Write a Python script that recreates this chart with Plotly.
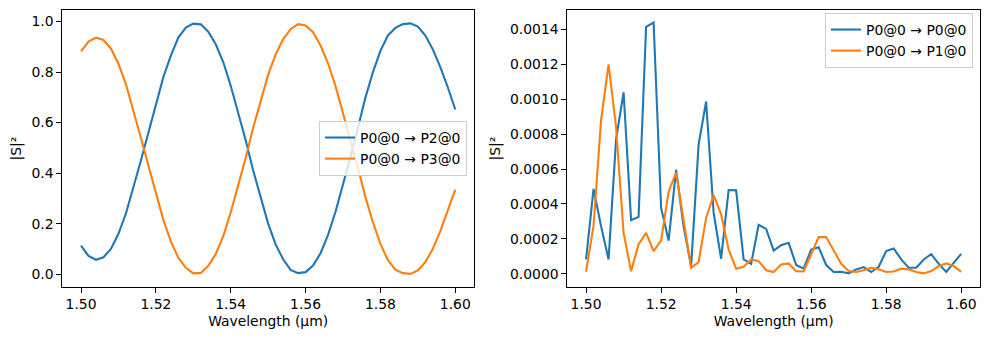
import plotly.graph_objects as go

wavelength = [1.500, 1.502, 1.504, 1.506, 1.508, 1.510, 1.512, 1.514, 1.516, 1.518,
              1.520, 1.522, 1.524, 1.526, 1.528, 1.530, 1.532, 1.534, 1.536, 1.538,
              1.540, 1.542, 1.544, 1.546, 1.548, 1.550, 1.552, 1.554, 1.556, 1.558,
              1.560, 1.562, 1.564, 1.566, 1.568, 1.570, 1.572, 1.574, 1.576, 1.578,
              1.580, 1.582, 1.584, 1.586, 1.588, 1.590, 1.592, 1.594, 1.596, 1.598,
              1.600]

s20 = [0.113, 0.072, 0.057, 0.067, 0.100, 0.160, 0.240, 0.340, 0.450, 0.560,
       0.670, 0.780, 0.865, 0.937, 0.976, 0.992, 0.989, 0.960, 0.910, 0.840,
       0.746, 0.640, 0.530, 0.410, 0.306, 0.200, 0.118, 0.059, 0.017, 0.004,
       0.008, 0.034, 0.083, 0.155, 0.247, 0.352, 0.464, 0.580, 0.700, 0.800,
       0.884, 0.945, 0.975, 0.990, 0.993, 0.980, 0.945, 0.890, 0.820, 0.740,
       0.652]

s30 = [0.882, 0.921, 0.936, 0.927, 0.893, 0.833, 0.752, 0.650, 0.540, 0.430,
       0.320, 0.215, 0.130, 0.065, 0.025, 0.003, 0.005, 0.033, 0.080, 0.150,
       0.245, 0.350, 0.460, 0.580, 0.685, 0.790, 0.870, 0.930, 0.970, 0.990,
       0.985, 0.958, 0.905, 0.835, 0.745, 0.640, 0.530, 0.420, 0.305, 0.205,
       0.120, 0.055, 0.018, 0.004, 0.001, 0.015, 0.048, 0.100, 0.170, 0.250,
       0.335]

s00 = [0.000082, 0.000486, 0.000272, 0.000082, 0.000770, 0.001040, 0.000307, 0.000326, 0.001415, 0.001440,
       0.000377, 0.000190, 0.000596, 0.000270, 0.000044, 0.000740, 0.000987, 0.000350, 0.000086, 0.000480,
       0.000478, 0.000082, 0.000057, 0.000280, 0.000257, 0.000133, 0.000164, 0.000177, 0.000050, 0.000029,
       0.000139, 0.000152, 0.000050, 0.000010, 0.000011, 0.000002, 0.000025, 0.000038, 0.000010, 0.000040,
       0.000130, 0.000145, 0.000082, 0.000034, 0.000034, 0.000082, 0.000112, 0.000057, 0.000010, 0.000063,
       0.000114]

s10 = [0.0000114, 0.000276, 0.000880, 0.001200, 0.000840, 0.000234, 0.000015, 0.000168, 0.000234, 0.000130,
       0.000190, 0.000470, 0.000580, 0.000310, 0.000034, 0.000067, 0.000320, 0.000450, 0.000340, 0.000139,
       0.000029, 0.000040, 0.000082, 0.000072, 0.000020, 0.000010, 0.000053, 0.000059, 0.000015, 0.000013,
       0.000110, 0.000210, 0.000210, 0.000133, 0.000057, 0.000015, 0.000010, 0.000020, 0.000034, 0.000025,
       0.000010, 0.000013, 0.000029, 0.000025, 0.000010, 0.000002, 0.000015, 0.000044, 0.000059, 0.000044,
       0.000011]

left_names = ["P0@0 → P2@0", "P0@0 → P3@0"]
right_names = ["P0@0 → P0@0", "P0@0 → P1@0"]
x_ticks = [1.50, 1.52, 1.54, 1.56, 1.58, 1.60]
left_y_ticks = [0.0, 0.2, 0.4, 0.6, 0.8, 1.0]
right_y_ticks = [0.0, 0.0002, 0.0004, 0.0006, 0.0008, 0.0010, 0.0012, 0.0014]

BLUE = "#1f77b4"
ORANGE = "#ff7f0e"
FONT = "DejaVu Sans"
FS = 13.9
W, H = 989, 340

fig = go.Figure()
fig.add_trace(go.Scatter(x=wavelength, y=s20, mode="lines", name=left_names[0],
                         line=dict(color=BLUE, width=2.1), xaxis="x", yaxis="y", legend="legend"))
fig.add_trace(go.Scatter(x=wavelength, y=s30, mode="lines", name=left_names[1],
                         line=dict(color=ORANGE, width=2.1), xaxis="x", yaxis="y", legend="legend"))
fig.add_trace(go.Scatter(x=wavelength, y=s00, mode="lines", name=right_names[0],
                         line=dict(color=BLUE, width=2.1), xaxis="x2", yaxis="y2", legend="legend2"))
fig.add_trace(go.Scatter(x=wavelength, y=s10, mode="lines", name=right_names[1],
                         line=dict(color=ORANGE, width=2.1), xaxis="x2", yaxis="y2", legend="legend2"))

ydom = [(H - 286.7) / H, (H - 10.3) / H]

def xaxis(domain, anchor):
    return dict(domain=domain, anchor=anchor, range=[1.495, 1.605],
                tickvals=x_ticks, tickformat=".2f", ticks="outside", ticklen=4.9, tickwidth=1.1,
                tickcolor="black", showline=True, linecolor="black", linewidth=1.1, mirror=True,
                showgrid=False, zeroline=False, automargin=False,
                tickfont=dict(family=FONT, size=FS, color="black"),
                title=dict(text="Wavelength (μm)", font=dict(family=FONT, size=FS, color="black"), standoff=4))

def yaxis(anchor, rng, ticks, fmt):
    return dict(domain=ydom, anchor=anchor, range=rng, tickvals=ticks, tickformat=fmt,
                ticks="outside", ticklen=4.9, tickwidth=1.1, tickcolor="black",
                showline=True, linecolor="black", linewidth=1.1, mirror=True,
                showgrid=False, zeroline=False, automargin=False,
                tickfont=dict(family=FONT, size=FS, color="black"),
                title=dict(text="|S|²", font=dict(family=FONT, size=FS, color="black"), standoff=6))

legend_style = dict(font=dict(family=FONT, size=FS, color="black"), bgcolor="rgba(255,255,255,0.8)",
                    bordercolor="#cccccc", borderwidth=1, xanchor="right", yanchor="top",
                    tracegroupgap=0, itemwidth=30)

fig.update_layout(
    width=W, height=H,
    margin=dict(l=0, r=0, t=0, b=0),
    paper_bgcolor="white", plot_bgcolor="white",
    font=dict(family=FONT, size=FS, color="black"),
    xaxis=xaxis([62.3 / W, 474.0 / W], "y"),
    yaxis=yaxis("x", [-0.0497, 1.0447], left_y_ticks, ".1f"),
    xaxis2=xaxis([567.3 / W, 980.0 / W], "y2"),
    yaxis2=yaxis("x2", [-0.0000743, 0.001510], right_y_ticks, ".4f"),
    legend=dict(x=467.0 / W, y=(H - 121.0) / H, **legend_style),
    legend2=dict(x=973.0 / W, y=(H - 13.0) / H, **legend_style),
    showlegend=True,
)

fig.write_html("out.html")
